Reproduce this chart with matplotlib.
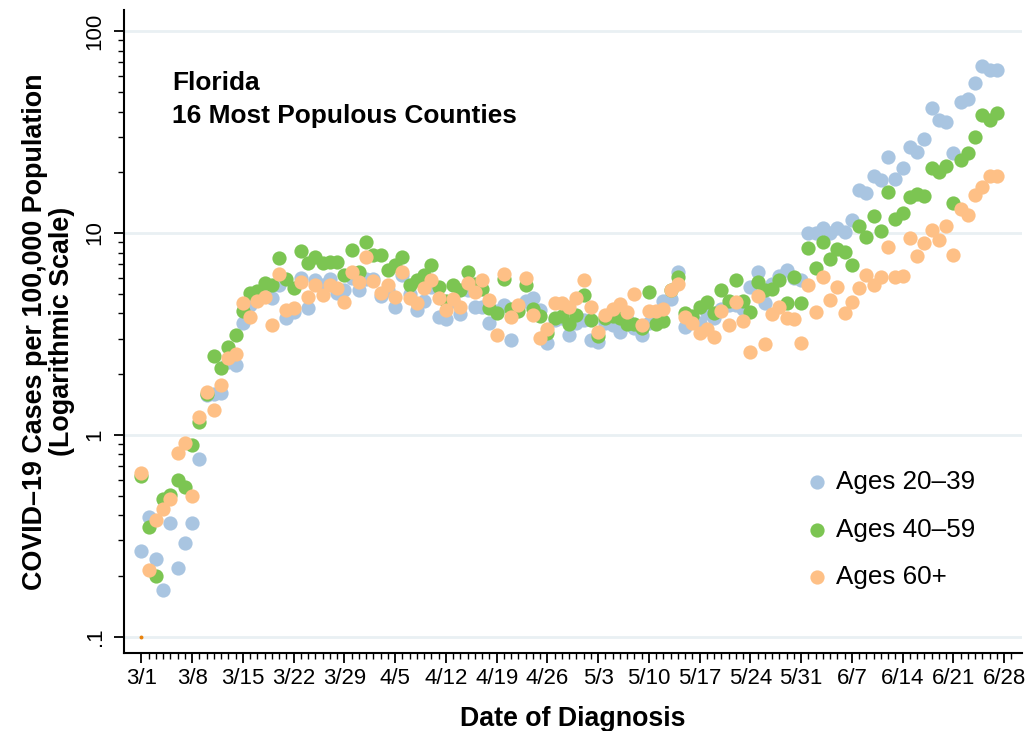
import numpy as np
import pandas as pd
import matplotlib
matplotlib.use("Agg")
import matplotlib.pyplot as plt
from matplotlib.ticker import FixedLocator, NullFormatter

# daily rates per 100,000, 3/1 .. 6/27
ages_20_39 = [0.267, 0.39, 0.243, 0.17, 0.365, 0.219, 0.291, 0.365, 0.76, 1.58,
              1.6, 1.61, 2.3, 2.22, 3.57, 4.4, 4.7, 5.0, 4.78, 5.5,
              3.78, 4.08, 6.0, 4.24, 5.85, 5.5, 5.9, 5.03, 5.2, 6.0,
              5.22, 5.9, 5.9, 4.9, 5.2, 4.32, 6.2, 5.0, 4.16, 4.6,
              5.4, 3.85, 3.75, 4.6, 3.95, 5.2, 4.3, 4.3, 3.57, 4.1,
              4.4, 2.95, 4.3, 4.6, 4.75, 4.16, 2.84, 3.7, 3.8, 3.13,
              3.6, 3.7, 2.95, 2.9, 3.6, 3.5, 3.25, 3.7, 3.4, 3.13,
              3.6, 4.0, 4.6, 4.7, 6.44, 3.44, 3.8, 3.6, 4.0, 3.8,
              4.2, 4.4, 4.4, 4.2, 5.4, 6.44, 4.5, 5.6, 6.1, 6.55,
              6.0, 5.85, 9.96, 10.0, 10.6, 9.96, 10.6, 10.1, 11.6, 16.3,
              15.8, 19.1, 18.3, 23.9, 18.6, 21.1, 26.7, 25.3, 29.4, 41.7,
              36.3, 35.3, 24.9, 44.6, 46.4, 55.1, 67.1, 64.3, 64.3]

ages_40_59 = [0.627, 0.348, 0.199, 0.48, 0.505, 0.60, 0.55, 0.89, 1.16, 1.6,
              2.46, 2.15, 2.72, 3.13, 4.11, 5.03, 5.16, 5.63, 5.53, 7.5,
              5.9, 5.33, 8.17, 7.08, 7.63, 7.08, 7.2, 7.2, 6.2, 8.2,
              6.44, 9.05, 7.8, 7.8, 6.55, 6.95, 7.58, 5.53, 5.85, 6.2,
              6.95, 5.39, 4.6, 5.53, 5.2, 6.44, 5.6, 5.3, 4.24, 4.0,
              5.9, 4.2, 4.1, 5.5, 4.2, 3.9, 3.2, 3.78, 3.9, 3.55,
              3.92, 4.93, 3.7, 3.1, 3.78, 3.9, 3.8, 3.55, 3.55, 3.4,
              5.1, 3.55, 3.65, 5.2, 6.03, 4.0, 3.9, 4.3, 4.57, 4.0,
              5.22, 4.6, 5.85, 4.6, 4.07, 5.7, 5.2, 5.3, 5.85, 4.52,
              6.07, 4.52, 8.4, 6.7, 9.06, 7.4, 8.3, 8.1, 6.95, 10.8,
              9.55, 12.1, 10.2, 16.0, 11.8, 12.6, 15.1, 15.6, 15.3, 21.1,
              20.1, 21.5, 14.1, 23.0, 25.0, 30.0, 38.5, 36.3, 39.3]

ages_60_plus = [0.646, 0.213, 0.38, 0.43, 0.48, 0.81, 0.91, 0.50, 1.22, 1.64,
                1.33, 1.76, 2.40, 2.52, 4.49, 3.83, 4.6, 4.84, 3.5, 6.3,
                4.16, 4.24, 5.74, 4.84, 5.53, 4.93, 5.53, 5.33, 4.57, 6.44,
                5.74, 7.58, 5.8, 5.05, 5.5, 4.84, 6.44, 4.75, 4.49, 5.33,
                5.85, 4.75, 4.16, 4.7, 4.32, 5.63, 5.1, 5.85, 4.66, 3.13,
                6.3, 3.85, 4.4, 5.97, 3.92, 3.01, 3.33, 4.5, 4.49, 4.3,
                4.75, 5.85, 4.3, 3.25, 3.92, 4.2, 4.45, 4.07, 5.0, 3.5,
                4.1, 4.1, 4.2, 5.22, 5.6, 3.85, 3.57, 3.18, 3.35, 3.07,
                4.1, 3.5, 4.57, 3.65, 2.58, 4.9, 2.82, 3.95, 4.3, 3.78,
                3.74, 2.84, 5.53, 4.08, 6.07, 4.66, 5.43, 4.0, 4.57, 5.33,
                6.2, 5.53, 6.03, 8.55, 6.07, 6.1, 9.4, 7.7, 8.95, 10.3,
                9.2, 10.8, 7.76, 13.2, 12.3, 15.4, 16.9, 19.2, 19.2]

series_labels = ["Ages 20\u201339", "Ages 40\u201359", "Ages 60+"]
series_colors = ["#a9c5e1", "#7cc552", "#fec086"]

dates = pd.date_range("2020-03-01", periods=len(ages_20_39), freq="D")
start = pd.Timestamp("2020-03-01")
days = np.array([(d - start).days for d in dates])
tick_dates = pd.date_range("2020-03-01", "2020-06-28", freq="7D")
tick_days = [(d - start).days for d in tick_dates]
tick_labels = ["{}/{}".format(d.month, d.day) for d in tick_dates]

y_ticks = [0.1, 1, 10, 100]
y_tick_labels = [".1", "1", "10", "100"]

font = "Liberation Sans"

fig = plt.figure(figsize=(10.33, 7.31), dpi=100)
ax = fig.add_axes([0.120, 0.107, 0.869, 0.879])

for vals, lab, col in zip([ages_20_39, ages_40_59, ages_60_plus], series_labels, series_colors):
    ax.scatter(days, vals, s=105, color=col, linewidths=0, label=lab, zorder=3)

# small marker at the axis origin, as in the original
ax.scatter([0], [0.1], s=8, color="#e8820c", linewidths=0, zorder=4)

ax.set_yscale("log")
ax.set_ylim(0.0833, 127)
ax.set_xlim(-2.4, 121.4)

ax.yaxis.set_major_locator(FixedLocator(y_ticks))
ax.set_yticklabels(y_tick_labels, rotation=90, va="center", fontfamily=font, fontsize=16)
minor_y = [m * 10.0 ** e for e in range(-1, 2) for m in range(2, 10)]
ax.yaxis.set_minor_locator(FixedLocator(minor_y))
ax.yaxis.set_minor_formatter(NullFormatter())

ax.set_xticks(tick_days)
ax.set_xticklabels(tick_labels, fontfamily=font, fontsize=16)
ax.set_xticks(np.arange(0, 121), minor=True)

ax.tick_params(axis="both", which="major", length=7.2, width=1.3, color="black")
ax.tick_params(axis="x", which="major", pad=4)
ax.tick_params(axis="y", which="major", pad=6)
ax.tick_params(axis="both", which="minor", length=4.3, width=1.0, color="black")

for v in y_ticks:
    ax.axhline(v, color="#e9f0f3", lw=2, zorder=1)

for side in ["top", "right"]:
    ax.spines[side].set_visible(False)
for side in ["left", "bottom"]:
    ax.spines[side].set_linewidth(1.5)

ax.set_xlabel("Date of Diagnosis", fontfamily=font, fontweight="bold", fontsize=19.3, labelpad=12)
ax.set_ylabel("COVID\u201319 Cases per 100,000 Population\n(Logarithmic Scale)",
              fontfamily=font, fontweight="bold", fontsize=19.4, labelpad=7, linespacing=1.05)

ax.text(0.0535, 0.905, "Florida\n16 Most Populous Counties", transform=ax.transAxes,
        fontfamily=font, fontweight="bold", fontsize=18.9, va="top", ha="left", linespacing=1.45)

leg = ax.legend(loc="upper left", bbox_to_anchor=(0.760, 0.284), frameon=False,
                prop={"family": font, "size": 18.75}, markerscale=1.0, handlelength=0.8,
                handletextpad=0.35, labelspacing=0.9, borderpad=0, borderaxespad=0)

fig.savefig("out.png", dpi=100, facecolor="white")
